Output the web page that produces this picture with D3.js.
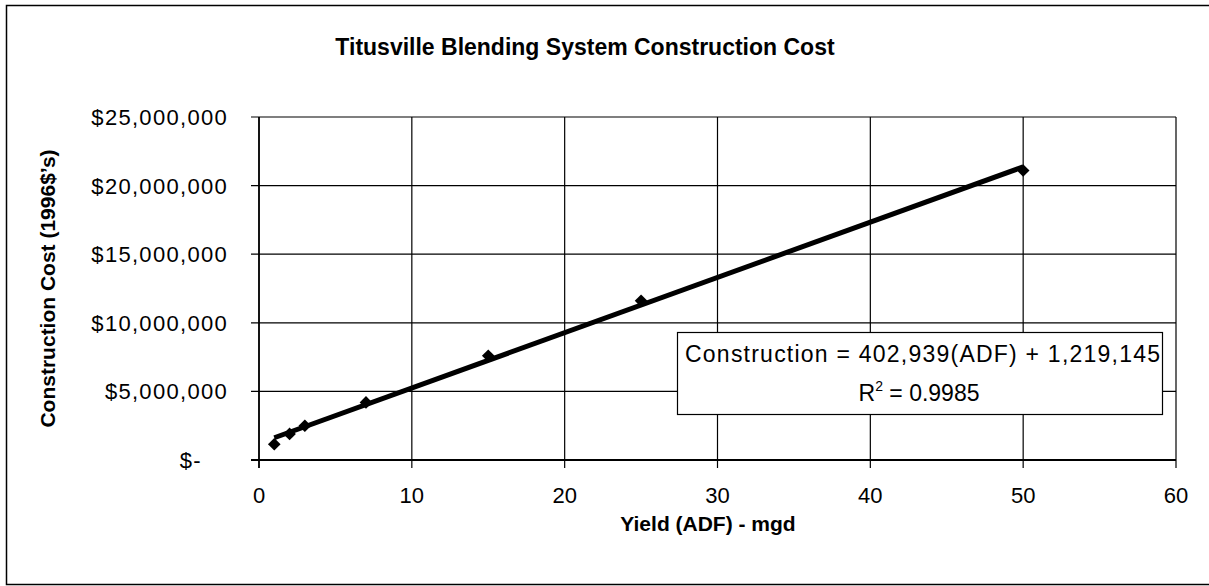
<!DOCTYPE html>
<html>
<head>
<meta charset="utf-8">
<script src="https://cdn.jsdelivr.net/npm/d3@7"></script>
<style>
  body { margin: 0; background: #fff; }
  text { font-family: "Liberation Sans", Arial, sans-serif; fill: #000; }
</style>
</head>
<body>
<svg id="chart"></svg>
<script>
// data
var yieldMgd = [1, 2, 3, 7, 15, 25, 50];
var costUsd = [1150000, 1900000, 2500000, 4200000, 7600000, 11600000, 21100000];
var xTicks = [0, 10, 20, 30, 40, 50, 60];
var yTicks = [0, 5000000, 10000000, 15000000, 20000000, 25000000];
var fitSlope = 402939;
var fitIntercept = 1219145;
var fitRange = [1, 50];

var width = 1209, height = 586;
var plot = {left: 259, top: 117, right: 1176, bottom: 460};

var svg = d3.select('#chart')
    .attr('width', width)
    .attr('height', height);

// outer frame (runs off the right edge like the scan)
svg.append('rect')
    .attr('x', 6.5).attr('y', 5.5)
    .attr('width', width + 10).attr('height', 579)
    .attr('fill', 'none')
    .attr('stroke', '#000')
    .attr('stroke-width', 1.5);

var x = d3.scaleLinear().domain([0, 60]).range([plot.left, plot.right]);
var y = d3.scaleLinear().domain([0, 25000000]).range([plot.bottom, plot.top]);

var fmtMoney = function(v) {
    return v === 0 ? '$-' : '$' + d3.format(',')(v);
};

// gridlines
svg.append('g')
    .selectAll('line')
    .data(yTicks)
    .join('line')
    .attr('x1', plot.left - 8).attr('x2', plot.right)
    .attr('y1', function(d) {return y(d);})
    .attr('y2', function(d) {return y(d);})
    .attr('stroke', '#000')
    .attr('stroke-width', 1.2);

svg.append('g')
    .selectAll('line')
    .data(xTicks)
    .join('line')
    .attr('x1', function(d) {return x(d);})
    .attr('x2', function(d) {return x(d);})
    .attr('y1', plot.top).attr('y2', plot.bottom + 8)
    .attr('stroke', '#000')
    .attr('stroke-width', 1.2);

// axis lines a bit heavier
svg.append('line')
    .attr('x1', plot.left).attr('x2', plot.left)
    .attr('y1', plot.top).attr('y2', plot.bottom + 8)
    .attr('stroke', '#000').attr('stroke-width', 1.6);
svg.append('line')
    .attr('x1', plot.left - 8).attr('x2', plot.right)
    .attr('y1', plot.bottom).attr('y2', plot.bottom)
    .attr('stroke', '#000').attr('stroke-width', 2);

// tick labels
svg.append('g')
    .selectAll('text')
    .data(yTicks)
    .join('text')
    .attr('x', function(d) {return d === 0 ? 202 : 228;})
    .attr('y', function(d) {return y(d) + 8;})
    .attr('text-anchor', 'end')
    .attr('font-size', '22px')
    .attr('letter-spacing', '1.3px')
    .text(fmtMoney);

svg.append('g')
    .selectAll('text')
    .data(xTicks)
    .join('text')
    .attr('x', function(d) {return x(d);})
    .attr('y', 503)
    .attr('text-anchor', 'middle')
    .attr('font-size', '22px')
    .text(function(d) {return d;});

// titles
svg.append('text')
    .attr('x', 585).attr('y', 55)
    .attr('text-anchor', 'middle')
    .attr('font-size', '23px')
    .attr('font-weight', 'bold')
    .text('Titusville Blending System Construction Cost');

svg.append('text')
    .attr('x', 708).attr('y', 531)
    .attr('text-anchor', 'middle')
    .attr('font-size', '21px')
    .attr('font-weight', 'bold')
    .text('Yield (ADF) - mgd');

svg.append('text')
    .attr('transform', 'translate(55,' + ((plot.top + plot.bottom) / 2) + ') rotate(-90)')
    .attr('text-anchor', 'middle')
    .attr('font-size', '21px')
    .attr('font-weight', 'bold')
    .text('Construction Cost (1996$\u2019s)');

// trend line
var fitLine = d3.line()
    .x(function(d) {return x(d);})
    .y(function(d) {return y(fitSlope * d + fitIntercept);});

svg.append('path')
    .datum(fitRange)
    .attr('d', fitLine)
    .attr('fill', 'none')
    .attr('stroke', '#000')
    .attr('stroke-width', 5);

// markers
svg.append('g')
    .selectAll('path')
    .data(yieldMgd)
    .join('path')
    .attr('transform', function(d, i) {
        return 'translate(' + x(d) + ',' + y(costUsd[i]) + ') rotate(45)';
    })
    .attr('d', d3.symbol().type(d3.symbolSquare).size(80))
    .attr('fill', '#000');

// equation box
var box = svg.append('g');
box.append('rect')
    .attr('x', 677.5).attr('y', 332.5)
    .attr('width', 485).attr('height', 82)
    .attr('fill', '#fff')
    .attr('stroke', '#000')
    .attr('stroke-width', 1.2);
box.append('text')
    .attr('x', 685).attr('y', 362)
    .attr('font-size', '23px')
    .attr('textLength', 475)
    .text('Construction = ' + d3.format(',')(fitSlope) + '(ADF) + ' + d3.format(',')(fitIntercept));
var r2 = box.append('text')
    .attr('x', 919).attr('y', 401)
    .attr('text-anchor', 'middle')
    .attr('font-size', '23px');
r2.append('tspan').text('R');
r2.append('tspan').attr('dy', -10).attr('font-size', '14px').text('2');
r2.append('tspan').attr('dy', 10).text(' = 0.9985');
</script>
</body>
</html>
